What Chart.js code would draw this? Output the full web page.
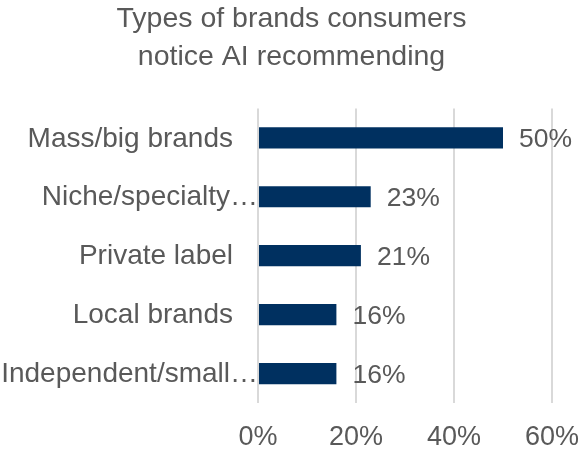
<!DOCTYPE html>
<html>
<head>
<meta charset="utf-8">
<script src="https://cdn.jsdelivr.net/npm/chart.js@4/dist/chart.umd.min.js"></script>
<style>
  html, body { margin: 0; padding: 0; background: #fff; }
  #wrap { width: 583px; height: 453px; position: relative; }
</style>
</head>
<body>
<div id="wrap"><canvas id="brandChart"></canvas></div>
<script>
const categories = ['Mass/big brands', 'Niche/specialty…', 'Private label', 'Local brands', 'Independent/small…'];
const shares = [50, 23, 21, 16, 16];
const xTicks = [0, 20, 40, 60];

const textColor = '#595959';
const fontFamily = '"Liberation Sans", Arial, sans-serif';

// category names on the left; a trailing ellipsis hangs past the right edge
const categoryLabels = {
  id: 'categoryLabels',
  afterDraw(chart) {
    const ctx = chart.ctx;
    const yScale = chart.scales.y;
    const right = chart.chartArea.left - 25;
    ctx.save();
    ctx.font = '28px ' + fontFamily;
    ctx.fillStyle = textColor;
    ctx.textBaseline = 'middle';
    categories.forEach((label, i) => {
      const y = yScale.getPixelForValue(i) + 1;
      if (label.endsWith('…')) {
        ctx.textAlign = 'right';
        ctx.fillText(label.slice(0, -1), right - 3, y);
        ctx.textAlign = 'left';
        ctx.fillText('…', right - 3, y);
      } else {
        ctx.textAlign = 'right';
        ctx.fillText(label, right, y);
      }
    });
    ctx.restore();
  }
};

// percentage at the end of each bar
const valueLabels = {
  id: 'valueLabels',
  afterDatasetsDraw(chart) {
    const ctx = chart.ctx;
    const meta = chart.getDatasetMeta(0);
    ctx.save();
    ctx.font = '26.5px ' + fontFamily;
    ctx.fillStyle = textColor;
    ctx.textAlign = 'left';
    ctx.textBaseline = 'middle';
    meta.data.forEach((bar, i) => {
      ctx.fillText(shares[i] + '%', bar.x + 16, bar.y + 2);
    });
    ctx.restore();
  }
};

new Chart(document.getElementById('brandChart'), {
  type: 'bar',
  data: {
    labels: categories,
    datasets: [{
      data: shares,
      backgroundColor: '#003060',
      borderWidth: 0,
      categoryPercentage: 1,
      barPercentage: 0.36
    }]
  },
  plugins: [categoryLabels, valueLabels],
  options: {
    indexAxis: 'y',
    responsive: true,
    maintainAspectRatio: false,
    animation: false,
    layout: { padding: 0 },
    plugins: {
      legend: { display: false },
      tooltip: { enabled: false },
      title: {
        display: true,
        text: ['Types of brands consumers', 'notice AI recommending'],
        color: textColor,
        font: { family: fontFamily, size: 28.5, weight: 'normal', lineHeight: 1.34 },
        padding: { top: 0, bottom: 32 }
      }
    },
    scales: {
      y: {
        display: true,
        grid: { display: false },
        border: { display: false },
        ticks: { display: false },
        afterFit(axis) { axis.width = 258; }
      },
      x: {
        min: 0,
        max: 60,
        afterBuildTicks(axis) {
          axis.ticks = xTicks.map(v => ({ value: v }));
        },
        afterFit(axis) {
          axis.height = 50;
          axis.paddingLeft = 0;
          axis.paddingRight = 31;
        },
        border: { display: false },
        grid: { color: '#d9d9d9', lineWidth: 2, drawTicks: false },
        ticks: {
          color: textColor,
          padding: 18,
          font: { family: fontFamily, size: 27 },
          callback: v => v + '%'
        }
      }
    }
  }
});
</script>
</body>
</html>
